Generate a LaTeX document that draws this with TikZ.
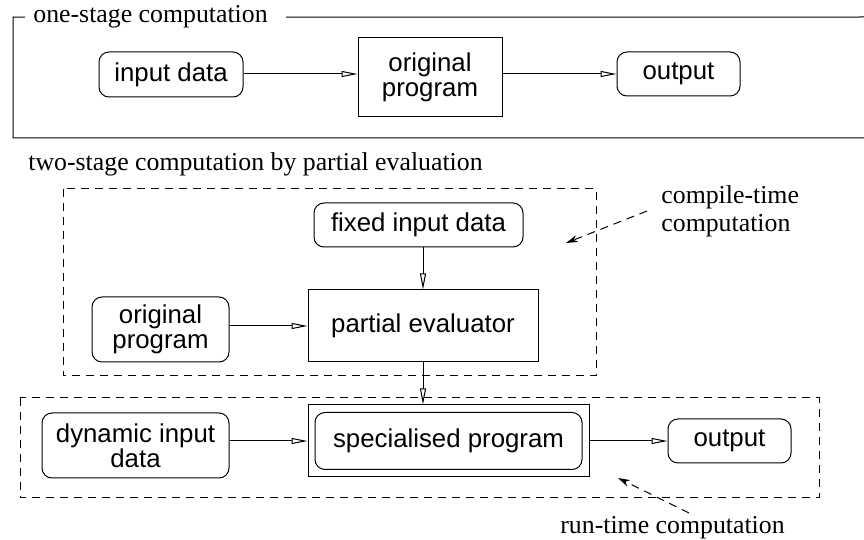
\documentclass[tikz,border=0pt]{standalone}
\usepackage{fontspec}
\setmainfont{Liberation Serif}
\setsansfont{Liberation Sans}
\usetikzlibrary{arrows.meta, positioning}

\tikzset{
  box/.style={draw, line width=0.5pt, inner sep=0pt, align=center, font=\sffamily\fontsize{12.9}{12.5}\selectfont},
  rbox/.style={box, rounded corners=5pt},
  flow/.style={-{Triangle[open, length=8pt, width=3pt]}, line width=0.5pt},
  region/.style={dash pattern=on 4pt off 3pt, line width=0.5pt},
  pointer/.style={region, -{Stealth[length=6pt, width=3.5pt]}},
  caption/.style={inner sep=0pt, align=left, font=\rmfamily\fontsize{12.9}{14}\selectfont},
}

\begin{document}
\begin{tikzpicture}[x=0.5pt, y=-0.5pt]
  \useasboundingbox (0,0) rectangle (864,540);

  % one-stage computation
  \node[caption, anchor=base west] (onestage) at (33,23) {one-stage computation};
  \draw[line width=0.5pt] ([xshift=-4pt]onestage.west) -- (13,17) -- (13,138) -- (864,138);
  \draw[line width=0.5pt] ([xshift=9pt]onestage.east) -- (864,17);

  \node[rbox, minimum width=72pt, minimum height=22.5pt] (indata) at (171,74.5) {input data};
  \node[box, minimum width=72pt, minimum height=39.5pt] (prog) at (430,77.5) {original\\program};
  \node[rbox, minimum width=61.5pt, minimum height=22pt] (out) at (678.5,74) {output};
  \draw[flow] (indata.east |- out.west) -- (prog.west |- out.west);
  \draw[flow] (prog.east |- out.west) -- (out.west);

  % two-stage computation
  \node[caption, anchor=base west] (twostage) at (28,171) {two-stage computation by partial evaluation};

  \draw[region] (63,189) rectangle (596,376);
  \node[rbox, minimum width=104.5pt, minimum height=22pt] (fixed) at (418.5,225) {fixed input data};
  \node[box, minimum width=115pt, minimum height=36pt] (peval) at (423,326) {partial evaluator};
  \node[rbox, minimum width=68.5pt, minimum height=32.5pt] (source) at (160.5,329.5) {original\\program};
  \draw[flow] (source.east |- peval.west) -- (peval.west);
  \draw[flow] (fixed.south -| peval.north) -- (peval.north);

  \draw[region] (20,398) rectangle (819,498);
  \node[box, minimum width=140.5pt, minimum height=36pt] (special) at (448.5,441) {};
  \node[rbox, minimum width=133.5pt, minimum height=28.5pt] (specprog) at (special) {specialised program};
  \node[rbox, minimum width=93.5pt, minimum height=32.5pt] (dyn) at (135.5,445.5) {dynamic input\\data};
  \node[rbox, minimum width=61.5pt, minimum height=22pt] (result) at (729.5,441) {output};
  \draw[flow] (dyn.east |- special.west) -- (special.west);
  \draw[flow] (peval.south) -- (peval.south |- special.north);
  \draw[flow] (special.east) -- (result.west);

  % annotations
  \node[caption, anchor=west] (compile) at (661,211) {compile-time\\computation};
  \node[caption, anchor=base west] (runtime) at (560,533) {run-time computation};
  \coordinate (ctip) at (566,243);
  \coordinate (rtail) at (689,513);
  \coordinate (rtip) at (618,478);
  \draw[pointer] ([xshift=-7pt]compile.west) -- (ctip);
  \draw[pointer] (rtail) -- (rtip);
\end{tikzpicture}
\end{document}
